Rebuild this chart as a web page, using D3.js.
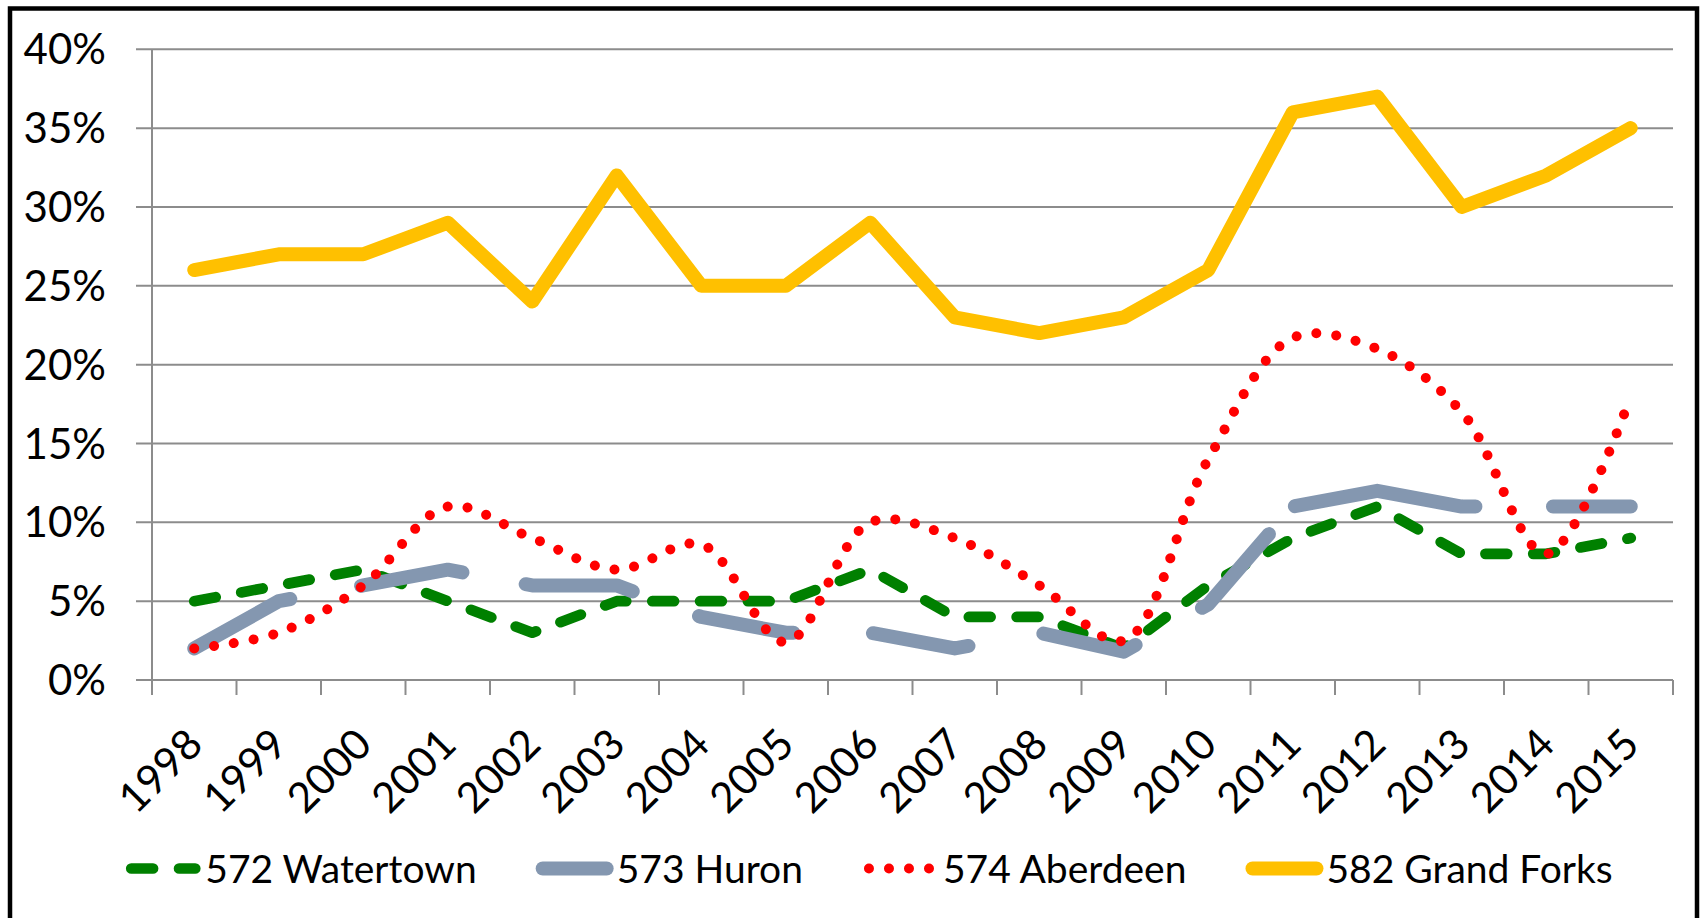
<!DOCTYPE html>
<html>
<head>
<meta charset="utf-8">
<script src="https://cdn.jsdelivr.net/npm/d3@7"></script>
<style>
  html, body { margin: 0; padding: 0; background: #fff; }
  svg { display: block; }
  text { font-family: Lato, "Open Sans", sans-serif; fill: #000; }
</style>
</head>
<body>
<svg id="chart" width="1704" height="918"></svg>
<script>
// Share of volume by area code, 1998-2015 (percent)
const years = ["1998","1999","2000","2001","2002","2003","2004","2005","2006",
               "2007","2008","2009","2010","2011","2012","2013","2014","2015"];
const watertown  = [5, 6, 7, 5, 3, 5, 5, 5, 7, 4, 4, 2, 6, 9, 11, 8, 8, 9];
const huron      = [2, 5, 6, 7, 6, 6, 4, 3, 3, 2, 3, 1.8, 4.8, 11, 12, 11, 11, 11];
const aberdeen   = [2, 3, 6, 11, 9, 7, 8.6, 2.4, 10, 9, 6, 2.5, 14, 21.7, 21, 17, 8, 18];
const grandForks = [26, 27, 27, 29, 24, 32, 25, 25, 29, 23, 22, 23, 26, 36, 37, 30, 32, 35];
const yTicks = [0, 5, 10, 15, 20, 25, 30, 35, 40];
const seriesNames = ["572 Watertown", "573 Huron", "574 Aberdeen", "582 Grand Forks"];

const svg = d3.select("#chart");

// Plot area
const plotLeft = 152, plotRight = 1673, plotTop = 49.3, plotBottom = 680;
const x = d3.scaleBand().domain(years).range([plotLeft, plotRight]);
const y = d3.scaleLinear().domain([0, 40]).range([plotBottom, plotTop]);
const cx = d => x(d) + x.bandwidth() / 2;

// Chart frame
svg.append("rect")
  .attr("x", 10).attr("y", 8.5)
  .attr("width", 1687).attr("height", 1000)
  .attr("fill", "none").attr("stroke", "#000").attr("stroke-width", 4.5);

const axisColor = "#8c8c8c";

// Horizontal gridlines (with outside tick stubs on the left)
svg.append("g").selectAll("line").data(yTicks).join("line")
  .attr("x1", plotLeft - 16).attr("x2", plotRight)
  .attr("y1", d => y(d)).attr("y2", d => y(d))
  .attr("stroke", axisColor).attr("stroke-width", 2);

// Vertical axis line
svg.append("line")
  .attr("x1", plotLeft).attr("x2", plotLeft)
  .attr("y1", plotTop).attr("y2", plotBottom)
  .attr("stroke", axisColor).attr("stroke-width", 2);

// Category tick marks at band boundaries
const bounds = years.map(d => x(d)).concat([x.range()[1]]);
svg.append("g").selectAll("line").data(bounds).join("line")
  .attr("x1", d => d).attr("x2", d => d)
  .attr("y1", plotBottom).attr("y2", plotBottom + 15)
  .attr("stroke", axisColor).attr("stroke-width", 2);

// Y tick labels
svg.append("g").selectAll("text").data(yTicks).join("text")
  .attr("x", 106).attr("y", d => y(d))
  .attr("dy", "0.36em")
  .attr("text-anchor", "end")
  .style("font-size", "42px")
  .text(d => d + "%");

// X tick labels, rotated
svg.append("g").selectAll("text").data(years).join("text")
  .attr("transform", d => `translate(${cx(d)},${plotBottom + 56}) rotate(-45)`)
  .attr("dy", "0.36em")
  .attr("text-anchor", "end")
  .style("font-size", "42px")
  .text(d => d);

// Series styles: dashed green, long-dash grey, round-dot red (smoothed), solid gold
const styles = [
  { color: "#008000", width: 10.7, dash: "21.8 26", curve: d3.curveLinear },
  { color: "#8497B0", width: 14,
    dash: "108.6 72 103.1 64.3 108.3 70.7 96 79.6 97.2 76.2 96 76 100 38.6 183.4 77.6 200 200",
    curve: d3.curveLinear },
  { color: "#FF0000", width: 10, dash: "0.01 20", curve: d3.curveCatmullRom.alpha(0.5) },
  { color: "#FFC000", width: 14, dash: null, curve: d3.curveLinear }
];
const seriesValues = [watertown, huron, aberdeen, grandForks];

seriesValues.forEach((vals, i) => {
  const s = styles[i];
  const line = d3.line()
    .x((d, j) => cx(years[j]))
    .y(d => y(d))
    .curve(s.curve);
  svg.append("path")
    .datum(vals)
    .attr("d", line)
    .attr("fill", "none")
    .attr("stroke", s.color)
    .attr("stroke-width", s.width)
    .attr("stroke-linecap", "round")
    .attr("stroke-linejoin", "round")
    .attr("stroke-dasharray", s.dash);
});

// Legend
const legendY = 868.5;
const sampleLen = 64, sampleGap = 10, itemGap = 66, legendCenter = 872;
const legend = svg.append("g");
const items = seriesNames.map((name, i) => {
  const g = legend.append("g");
  const t = g.append("text")
    .attr("x", sampleLen + sampleGap)
    .attr("y", legendY)
    .attr("dy", "0.36em")
    .style("font-size", "39px")
    .text(name);
  const w = t.node().getComputedTextLength();
  g.append("line")
    .attr("x1", 0).attr("x2", sampleLen)
    .attr("y1", legendY).attr("y2", legendY)
    .attr("stroke", styles[i].color)
    .attr("stroke-width", styles[i].width)
    .attr("stroke-linecap", "round")
    .attr("stroke-dasharray", styles[i].dash);
  return { g, w: sampleLen + sampleGap + w };
});
const total = d3.sum(items, d => d.w) + itemGap * (items.length - 1);
let pos = legendCenter - total / 2;
items.forEach(it => {
  it.g.attr("transform", `translate(${pos},0)`);
  pos += it.w + itemGap;
});
</script>
</body>
</html>
